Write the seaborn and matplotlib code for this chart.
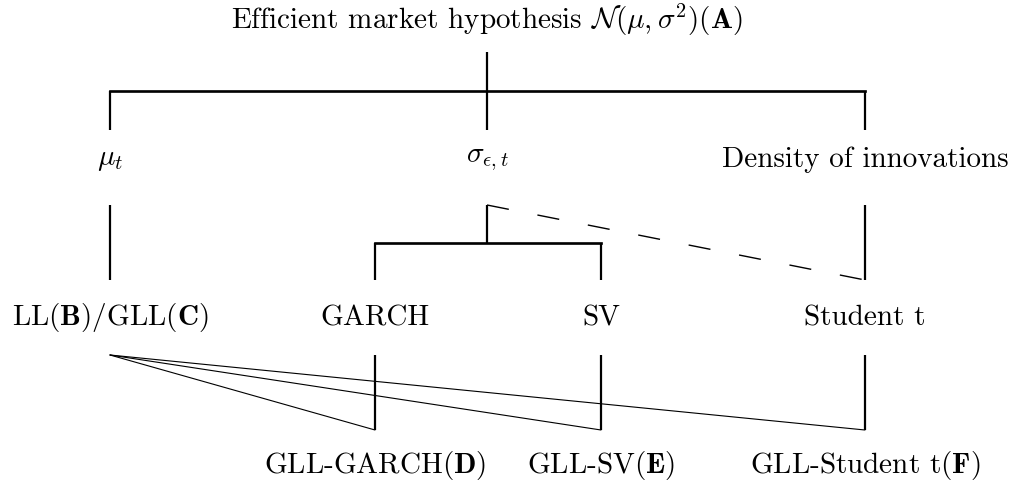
import matplotlib
matplotlib.use("Agg")
import matplotlib.pyplot as plt
import seaborn as sns

# nodes of the model tree
node_labels = [
    r"Efficient market hypothesis $\mathcal{N}(\mu,\sigma^2)(\mathbf{A})$",
    r"$\mu_t$",
    r"$\sigma_{\epsilon,t}$",
    "Density of innovations",
    r"LL$(\mathbf{B})$/GLL$(\mathbf{C})$",
    "GARCH",
    "SV",
    "Student t",
    r"GLL-GARCH$(\mathbf{D})$",
    r"GLL-SV$(\mathbf{E})$",
    r"GLL-Student t$(\mathbf{F})$",
]
node_x = [487, 110, 487, 865, 110, 375, 601, 865, 375, 601, 865]
node_row = [0, 1, 1, 1, 2, 2, 2, 2, 3, 3, 3]

# vertical positions of rows (label centre, line start below, line end above)
row_y = [20, 160, 318, 465]
row_below = [52, 205, 355]
row_above = [None, 130, 280, 430]

# tree edges: parent -> children (elbow connectors)
tree_edges = [(0, [1, 2, 3]), (1, [4]), (2, [5, 6]), (3, [7]),
              (5, [8]), (6, [9]), (7, [10])]
# dashed link and fan links
dashed_edges = [(2, 7)]
fan_edges = [(4, 8), (4, 9), (4, 10)]

sns.set_theme(style="white")
plt.rcParams["font.family"] = "serif"
plt.rcParams["font.serif"] = ["cmr10"]
plt.rcParams["mathtext.fontset"] = "cm"
plt.rcParams["axes.unicode_minus"] = False

fig = plt.figure(figsize=(10.11, 4.88), dpi=100)
ax = fig.add_axes([0, 0, 1, 1])
ax.set_xlim(0, 1011)
ax.set_ylim(488, 0)
ax.axis("off")

lw = 1.6
for p, kids in tree_edges:
    r = node_row[p]
    y0 = row_below[r]
    y1 = row_above[r + 1]
    px = node_x[p]
    if len(kids) == 1 and node_x[kids[0]] == px:
        ax.plot([px, px], [y0, y1], color="black", lw=lw, solid_capstyle="butt")
        continue
    ym = (y0 + y1) / 2
    xs = [node_x[k] for k in kids]
    ax.plot([px, px], [y0, ym], color="black", lw=lw, solid_capstyle="butt")
    ax.plot([min(xs), max(xs)], [ym, ym], color="black", lw=lw * 1.2,
            solid_capstyle="projecting")
    for x in xs:
        ax.plot([x, x], [ym, y1], color="black", lw=lw, solid_capstyle="butt")

for a, b in dashed_edges:
    ax.plot([node_x[a], node_x[b]], [row_below[node_row[a]], row_above[node_row[b]]],
            color="black", lw=1.0, dashes=(16, 21))

for a, b in fan_edges:
    ax.plot([node_x[a], node_x[b]], [row_below[node_row[a]], row_above[node_row[b]]],
            color="black", lw=0.8)

for label, x, r in zip(node_labels, node_x, node_row):
    ax.text(x, row_y[r], label, ha="center", va="center", fontsize=21,
            color="black")

fig.savefig("out.png", dpi=100)
